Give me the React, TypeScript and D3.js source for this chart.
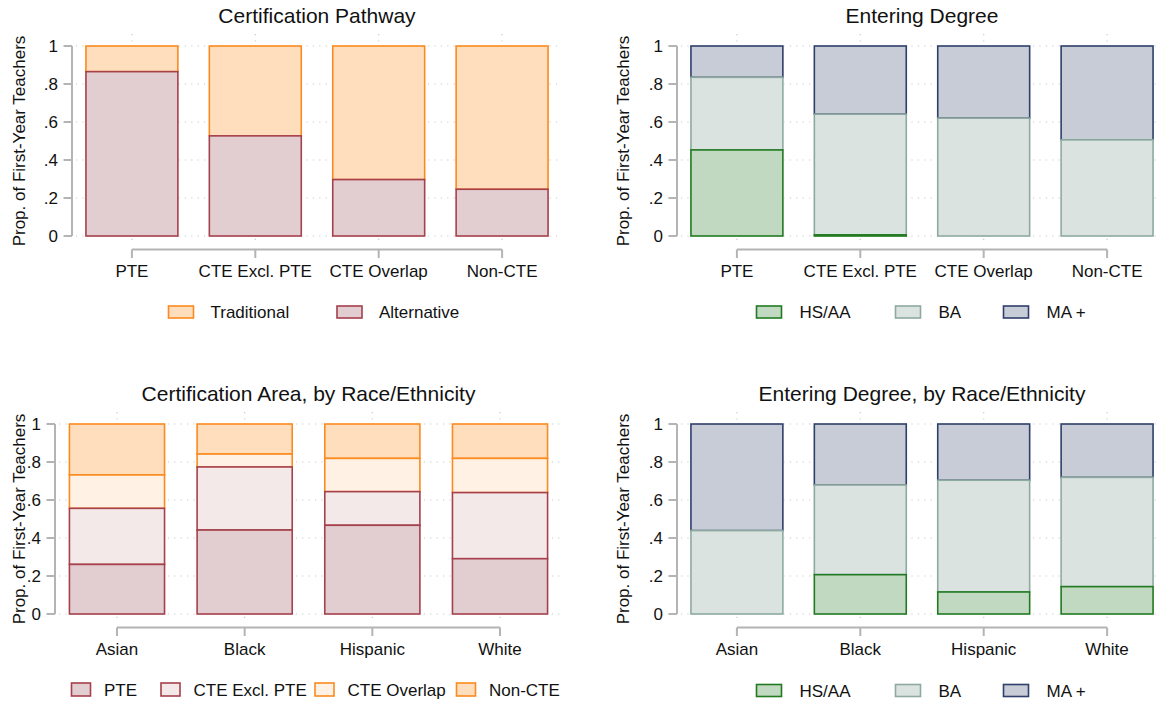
import * as d3 from 'd3'

// ---- data ----
const pathwayCats = ['PTE', 'CTE Excl. PTE', 'CTE Overlap', 'Non-CTE']
const raceCats = ['Asian', 'Black', 'Hispanic', 'White']

// Certification Pathway
const altShare = [0.865, 0.527, 0.297, 0.246]
const tradShare = [0.135, 0.473, 0.703, 0.754]

// Entering Degree by pathway
const degHSAA = [0.453, 0.006, 0, 0]
const degBA = [0.382, 0.635, 0.62, 0.506]
const degMA = [0.165, 0.359, 0.38, 0.494]

// Certification Area by race
const areaPTE = [0.261, 0.442, 0.467, 0.291]
const areaCTEExcl = [0.295, 0.332, 0.177, 0.348]
const areaOverlap = [0.176, 0.068, 0.175, 0.18]
const areaNonCTE = [0.268, 0.158, 0.181, 0.181]

// Entering Degree by race
const raceHSAA = [0, 0.207, 0.116, 0.144]
const raceBA = [0.439, 0.472, 0.588, 0.575]
const raceMA = [0.561, 0.321, 0.296, 0.281]

const yTicks = [0, 0.2, 0.4, 0.6, 0.8, 1]
const yTickLabels = ['0', '.2', '.4', '.6', '.8', '1']

const FONT = '"Liberation Sans", Arial, Helvetica, sans-serif'
const ORANGE = '#fb8a1f'
const MAROON = '#a5404c'
const GREEN = '#217a21'
const GRAYGREEN = '#8eaaa0'
const NAVY = '#2f3f6b'

interface Series {
  name: string
  values: number[]
  fill: string
  stroke: string
}

interface PanelProps {
  title: string
  cats: string[]
  series: Series[]
  x0: number
  x1: number
  yBottom: number
  yTop: number
  yTitleX: number
  legendXs: number[]
  legendY: number
  swatchW: number
  swatchH: number
  legendGap: number
}

const Panel = ({
  title,
  cats,
  series,
  x0,
  x1,
  yBottom,
  yTop,
  yTitleX,
  legendXs,
  legendY,
  swatchW,
  swatchH,
  legendGap,
}: PanelProps) => {
  const x = d3
    .scaleBand<string>()
    .domain(cats)
    .range([x0, x1])
    .paddingInner(0.255)
    .paddingOuter(0.113)
  const y = d3.scaleLinear().domain([0, 1]).range([yBottom, yTop])

  const rows = cats.map((c, i) => {
    const r: Record<string, any> = { cat: c }
    series.forEach((s) => (r[s.name] = s.values[i]))
    return r
  })
  const stacked = d3.stack<any>().keys(series.map((s) => s.name))(rows)

  const bw = x.bandwidth()
  const center = (c: string) => (x(c) as number) + bw / 2
  const firstC = center(cats[0])
  const lastC = center(cats[cats.length - 1])
  const axisY = yBottom + 13.5

  return (
    <g>
      {/* title */}
      <text
        x={(x0 + x1) / 2}
        y={yTop - 23}
        textAnchor="middle"
        fontSize={21}
        fill="#111"
      >
        {title}
      </text>

      {/* grid */}
      <g stroke="#c8c8c8" strokeWidth={1.2} strokeDasharray="1.2,5.2">
        {yTicks.map((t) => (
          <line key={t} x1={x0 + 4} x2={x1} y1={y(t)} y2={y(t)} />
        ))}
        {cats.map((c) => (
          <line
            key={c}
            x1={center(c)}
            x2={center(c)}
            y1={yTop - 12}
            y2={yBottom + 7}
          />
        ))}
      </g>

      {/* bars: top series drawn first so the lower outlines sit on top */}
      {[...stacked].reverse().map((layer) => {
        const s = series[layer.index]
        return (
          <g key={s.name}>
            {layer.map((d, i) => {
              const h = y(d[0]) - y(d[1])
              if (h <= 0) return null
              return (
                <rect
                  key={cats[i]}
                  x={x(cats[i])}
                  y={y(d[1])}
                  width={bw}
                  height={h}
                  fill={s.fill}
                  stroke={s.stroke}
                  strokeWidth={1.6}
                />
              )
            })}
          </g>
        )
      })}

      {/* y axis */}
      <g stroke="#b4b4b4" strokeWidth={2}>
        <line x1={x0} x2={x0} y1={y(0)} y2={y(1)} />
        {yTicks.map((t) => (
          <line key={t} x1={x0 - 8.5} x2={x0} y1={y(t)} y2={y(t)} />
        ))}
      </g>
      <g fontSize={17} fill="#111" textAnchor="end">
        {yTicks.map((t, i) => (
          <text key={t} x={x0 - 14} y={y(t)} dy="0.36em">
            {yTickLabels[i]}
          </text>
        ))}
      </g>
      <text
        transform={`translate(${yTitleX},${(yTop + yBottom) / 2}) rotate(-90)`}
        textAnchor="middle"
        fontSize={17}
        fill="#111"
      >
        Prop. of First-Year Teachers
      </text>

      {/* category axis */}
      <g stroke="#b4b4b4" strokeWidth={2}>
        <line x1={firstC} x2={lastC} y1={axisY} y2={axisY} />
        {cats.map((c) => (
          <line key={c} x1={center(c)} x2={center(c)} y1={axisY} y2={axisY + 8.5} />
        ))}
      </g>
      <g fontSize={17} fill="#111" textAnchor="middle">
        {cats.map((c) => (
          <text key={c} x={center(c)} y={yBottom + 40.7}>
            {c}
          </text>
        ))}
      </g>

      {/* legend */}
      <g fontSize={17} fill="#111">
        {series.map((s, i) => (
          <g key={s.name}>
            <rect
              x={legendXs[i]}
              y={legendY - swatchH / 2}
              width={swatchW}
              height={swatchH}
              fill={s.fill}
              stroke={s.stroke}
              strokeWidth={1.6}
            />
            <text x={legendXs[i] + swatchW + legendGap} y={legendY + 6}>
              {s.name}
            </text>
          </g>
        ))}
      </g>
    </g>
  )
}

export default function App() {
  const pathwaySeries: Series[] = [
    { name: 'Traditional', values: tradShare, fill: '#fedebd', stroke: ORANGE },
    { name: 'Alternative', values: altShare, fill: '#e2cdd0', stroke: MAROON },
  ]
  // stack order bottom -> top
  const pathwayStack = [pathwaySeries[1], pathwaySeries[0]]

  const degreeSeries: Series[] = [
    { name: 'HS/AA', values: degHSAA, fill: '#c1d9c1', stroke: GREEN },
    { name: 'BA', values: degBA, fill: '#dae3e0', stroke: GRAYGREEN },
    { name: 'MA +', values: degMA, fill: '#c8ccd6', stroke: NAVY },
  ]

  const areaSeries: Series[] = [
    { name: 'PTE', values: areaPTE, fill: '#e2cdd0', stroke: MAROON },
    { name: 'CTE Excl. PTE', values: areaCTEExcl, fill: '#f3e9e9', stroke: MAROON },
    { name: 'CTE Overlap', values: areaOverlap, fill: '#fff2e5', stroke: ORANGE },
    { name: 'Non-CTE', values: areaNonCTE, fill: '#fedebd', stroke: ORANGE },
  ]

  const raceDegSeries: Series[] = [
    { name: 'HS/AA', values: raceHSAA, fill: '#c1d9c1', stroke: GREEN },
    { name: 'BA', values: raceBA, fill: '#dae3e0', stroke: GRAYGREEN },
    { name: 'MA +', values: raceMA, fill: '#c8ccd6', stroke: NAVY },
  ]

  return (
    <div style={{ position: 'absolute', left: 0, top: 0, width: 1156, height: 707, background: '#fff', overflow: 'hidden' }}>
      <svg width={1156} height={707} style={{ display: 'block', fontFamily: FONT }}>
        <rect width={1156} height={707} fill="#fff" />
        <PanelWithLegendOrder
          title="Certification Pathway"
          cats={pathwayCats}
          stackSeries={pathwayStack}
          legendSeries={pathwaySeries}
          x0={72}
          x1={562}
          yBottom={236}
          yTop={46}
          yTitleX={25}
          legendXs={[168.5, 337]}
          legendY={312}
          swatchW={25}
          swatchH={12}
          legendGap={17}
        />
        <Panel
          title="Entering Degree"
          cats={pathwayCats}
          series={degreeSeries}
          x0={677}
          x1={1167}
          yBottom={236}
          yTop={46}
          yTitleX={629}
          legendXs={[756.5, 895.5, 1003.5]}
          legendY={312}
          swatchW={25}
          swatchH={12}
          legendGap={18}
        />
        <Panel
          title="Certification Area, by Race/Ethnicity"
          cats={raceCats}
          series={areaSeries}
          x0={55}
          x1={562}
          yBottom={614}
          yTop={424}
          yTitleX={25}
          legendXs={[71.5, 161, 315, 456.5]}
          legendY={689.5}
          swatchW={19}
          swatchH={13}
          legendGap={13.5}
        />
        <Panel
          title="Entering Degree, by Race/Ethnicity"
          cats={raceCats}
          series={raceDegSeries}
          x0={677}
          x1={1167}
          yBottom={614}
          yTop={424}
          yTitleX={629}
          legendXs={[756.5, 895.5, 1003.5]}
          legendY={690.5}
          swatchW={25}
          swatchH={12}
          legendGap={18}
        />
      </svg>
    </div>
  )
}

// the pathway panel stacks Alternative under Traditional but lists Traditional first
const PanelWithLegendOrder = (
  props: Omit<PanelProps, 'series'> & { stackSeries: Series[]; legendSeries: Series[] }
) => {
  const { stackSeries, legendSeries, legendXs, ...rest } = props
  // map legend positions onto stack order
  const xs = stackSeries.map((s) => legendXs[legendSeries.indexOf(s)])
  return <Panel {...rest} series={stackSeries} legendXs={xs} />
}
